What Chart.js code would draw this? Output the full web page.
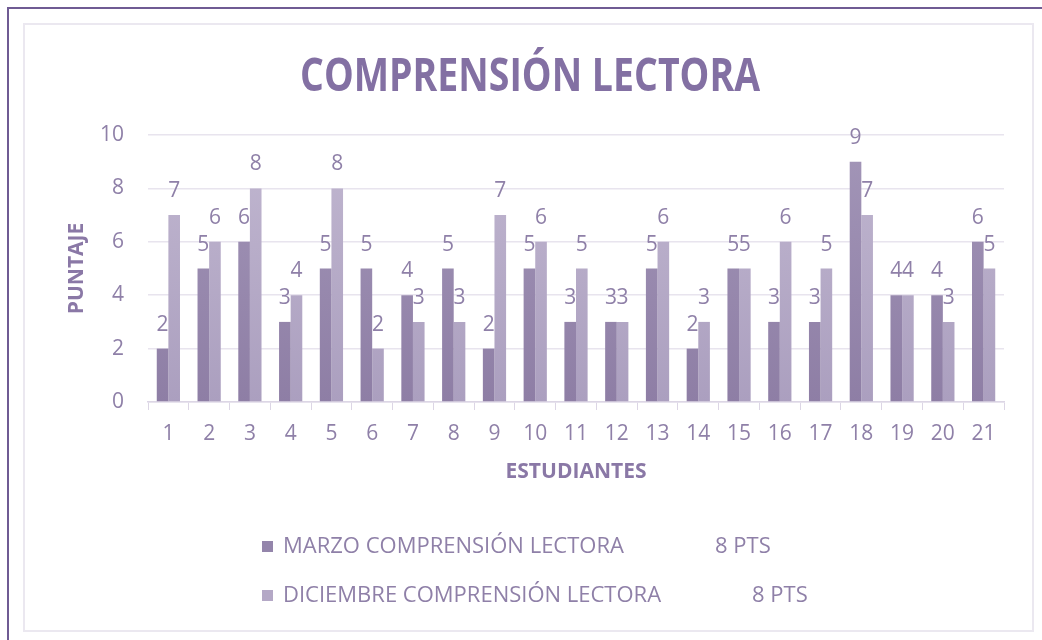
<!DOCTYPE html>
<html><head><meta charset="utf-8">
<script src="https://cdn.jsdelivr.net/npm/chart.js@4"></script>
<style>
html,body{margin:0;padding:0;background:#fff;}
#wrap{position:relative;width:1042px;height:640px;overflow:hidden;background:#fff;}
#outer{position:absolute;left:7px;top:7px;width:1100px;height:700px;border-left:2px solid #6f5b93;border-top:2px solid #6f5b93;}
#inner{position:absolute;left:23px;top:23px;width:1007px;height:605px;border:2px solid #ebe8f0;}
canvas{position:absolute;left:0;top:0;}
</style></head>
<body><div id="wrap"><div id="outer"></div><div id="inner"></div><canvas id="c" width="1042" height="640"></canvas></div>
<script>
const categories = ['1','2','3','4','5','6','7','8','9','10','11','12','13','14','15','16','17','18','19','20','21'];
const marzo = [2,5,6,3,5,5,4,5,2,5,3,3,5,2,5,3,3,9,4,4,6];
const diciembre = [7,6,8,4,8,2,3,3,7,6,5,3,6,3,5,6,5,7,4,3,5];
const seriesNames = ['MARZO COMPRENSIÓN LECTORA', 'DICIEMBRE COMPRENSIÓN LECTORA'];
const seriesPts = ['8 PTS', '8 PTS'];
const chartTitle = 'COMPRENSIÓN LECTORA';
const xTitle = 'ESTUDIANTES';
const yTitle = 'PUNTAJE';
const yMin = 0, yMax = 10, yStep = 2;

const TEXT = '#8f80a8';
const FONT = '"Open Sans", sans-serif';

function grad(top, bottom) {
  return (c) => {
    const ca = c.chart.chartArea;
    if (!ca) return bottom;
    const g = c.chart.ctx.createLinearGradient(0, ca.top, 0, ca.bottom);
    g.addColorStop(0, top);
    g.addColorStop(1, bottom);
    return g;
  };
}
const solid = ['#9485ab', '#b4a8c6'];

const decor = {
  id: 'decor',
  afterDraw(chart) {
    const ctx = chart.ctx;
    ctx.save();
    ctx.font = 'bold 46px ' + FONT;
    ctx.fillStyle = '#8370a3';
    ctx.textBaseline = 'alphabetic';
    const w = ctx.measureText(chartTitle).width;
    const sx = 460 / w;
    ctx.translate(530, 91);
    ctx.scale(sx, 1);
    ctx.textAlign = 'center';
    ctx.fillText(chartTitle, 0, 0);
    ctx.restore();
    ctx.save();
    ctx.font = '22px ' + FONT;
    ctx.textBaseline = 'middle';
    const rows = [547, 596];
    const ptsX = [715, 752];
    seriesNames.forEach((n, i) => {
      ctx.fillStyle = solid[i];
      ctx.fillRect(262, rows[i] - 6, 11, 11);
      ctx.fillStyle = TEXT;
      ctx.textAlign = 'left';
      ctx.fillText(n, 283, rows[i]);
      ctx.fillText(seriesPts[i], ptsX[i], rows[i]);
    });
    ctx.restore();
  },
  afterDatasetsDraw(chart) {
    const ctx = chart.ctx;
    ctx.save();
    ctx.font = '21px ' + FONT;
    ctx.fillStyle = TEXT;
    ctx.textAlign = 'center';
    ctx.textBaseline = 'alphabetic';
    chart.data.datasets.forEach((ds, di) => {
      const meta = chart.getDatasetMeta(di);
      meta.data.forEach((el, i) => {
        ctx.fillText(String(ds.data[i]), el.x, el.y - 18);
      });
    });
    ctx.restore();
  }
};

new Chart(document.getElementById('c'), {
  type: 'bar',
  data: {
    labels: categories,
    datasets: [
      { label: seriesNames[0], data: marzo, backgroundColor: grad('#a396b8', '#8e7ea5'), categoryPercentage: 0.57, barPercentage: 1.0 },
      { label: seriesNames[1], data: diciembre, backgroundColor: grad('#c1b7d0', '#ab9fbf'), categoryPercentage: 0.57, barPercentage: 1.0 }
    ]
  },
  options: {
    responsive: false,
    animation: false,
    layout: { padding: { left: 50, right: 38, top: 135, bottom: 148 } },
    plugins: { legend: { display: false }, title: { display: false }, tooltip: { enabled: false } },
    scales: {
      x: {
        grid: { display: true, drawOnChartArea: false, drawTicks: true, tickLength: 8, color: '#dcd6e5', offset: true },
        border: { display: true, color: '#dcd6e5', width: 1.5 },
        ticks: { color: TEXT, font: { family: FONT, size: 21 }, padding: 11, maxRotation: 0, autoSkip: false },
        title: { display: true, text: xTitle, color: '#8a78a6', font: { family: FONT, size: 21, weight: 'bold' }, padding: { top: 0, bottom: 7 } },
        afterFit(s) { s.height = 90; }
      },
      y: {
        min: yMin, max: yMax,
        grid: { color: '#e8e4ee', lineWidth: 1.5, drawTicks: false },
        border: { display: false },
        ticks: { stepSize: yStep, color: TEXT, font: { family: FONT, size: 21 }, padding: 24 },
        title: { display: true, text: yTitle, color: '#8a78a6', font: { family: FONT, size: 21, weight: 'bold' }, padding: { top: 14, bottom: 0 } },
        afterFit(s) { s.width = 98; }
      }
    }
  },
  plugins: [decor]
});
</script>
</body></html>
